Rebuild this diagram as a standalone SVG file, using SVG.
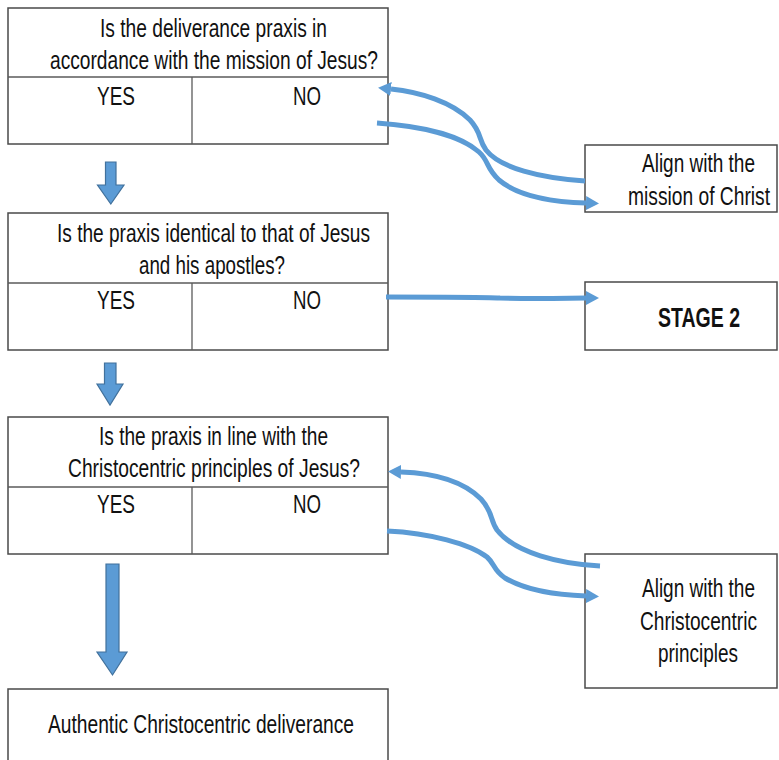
<svg xmlns="http://www.w3.org/2000/svg" width="779" height="760" viewBox="0 0 779 760">
<style>
.box{fill:#ffffff;stroke:#4a4a4a;stroke-width:1.5}
.div{stroke:#5a5a5a;stroke-width:1.3;fill:none}
.t{font-family:"Liberation Sans Narrow","Liberation Sans",Arial,sans-serif;font-size:25px;fill:#111111}
.b{font-weight:bold;font-size:27px}
.con{fill:none;stroke:#5B9BD5;stroke-width:5;stroke-linecap:butt}
.blk{fill:#5B9BD5;stroke:#41719C;stroke-width:1.2}
</style>
<defs>
<marker id="ah" markerUnits="userSpaceOnUse" markerWidth="13" markerHeight="14" refX="0" refY="7" orient="auto">
<path d="M0,0 L13,7 L0,14 z" fill="#5B9BD5"/>
</marker>
</defs>
<rect width="779" height="760" fill="#ffffff"/>

<g id="q1">
<rect class="box" x="8" y="8" width="380" height="136"/>
<line class="div" x1="8" y1="77" x2="388" y2="77"/>
<line class="div" x1="192" y1="77" x2="192" y2="144"/>
<text class="t" x="100" y="37" textLength="227" lengthAdjust="spacingAndGlyphs">Is the deliverance praxis in</text>
<text class="t" x="50" y="69" textLength="328" lengthAdjust="spacingAndGlyphs">accordance with the mission of Jesus?</text>
<text class="t" x="97" y="105" textLength="38" lengthAdjust="spacingAndGlyphs">YES</text>
<text class="t" x="293" y="105" textLength="28" lengthAdjust="spacingAndGlyphs">NO</text>
</g>

<g id="q2">
<rect class="box" x="8" y="213" width="380" height="137"/>
<line class="div" x1="8" y1="283" x2="388" y2="283"/>
<line class="div" x1="192" y1="283" x2="192" y2="350"/>
<text class="t" x="57" y="242" textLength="313" lengthAdjust="spacingAndGlyphs">Is the praxis identical to that of Jesus</text>
<text class="t" x="139" y="274" textLength="146" lengthAdjust="spacingAndGlyphs">and his apostles?</text>
<text class="t" x="97" y="309" textLength="38" lengthAdjust="spacingAndGlyphs">YES</text>
<text class="t" x="293" y="309" textLength="28" lengthAdjust="spacingAndGlyphs">NO</text>
</g>

<g id="q3">
<rect class="box" x="8" y="417" width="380" height="137"/>
<line class="div" x1="8" y1="487" x2="388" y2="487"/>
<line class="div" x1="192" y1="487" x2="192" y2="554"/>
<text class="t" x="99" y="445" textLength="229" lengthAdjust="spacingAndGlyphs">Is the praxis in line with the</text>
<text class="t" x="68" y="477" textLength="292" lengthAdjust="spacingAndGlyphs">Christocentric principles of Jesus?</text>
<text class="t" x="97" y="513" textLength="38" lengthAdjust="spacingAndGlyphs">YES</text>
<text class="t" x="293" y="513" textLength="28" lengthAdjust="spacingAndGlyphs">NO</text>
</g>

<g id="result">
<rect class="box" x="8" y="689" width="380" height="90"/>
<text class="t" x="48" y="733" textLength="306" lengthAdjust="spacingAndGlyphs">Authentic Christocentric deliverance</text>
</g>

<g id="alignMission">
<rect class="box" x="585" y="145" width="192" height="67"/>
<text class="t" x="642" y="172" textLength="113" lengthAdjust="spacingAndGlyphs">Align with the</text>
<text class="t" x="628" y="205" textLength="142" lengthAdjust="spacingAndGlyphs">mission of Christ</text>
</g>

<g id="stage2">
<rect class="box" x="585" y="282" width="192" height="68"/>
<text class="t b" x="658" y="327" textLength="82" lengthAdjust="spacingAndGlyphs">STAGE 2</text>
</g>

<g id="alignPrinciples">
<rect class="box" x="585" y="554" width="192" height="134"/>
<text class="t" x="642" y="597" textLength="113" lengthAdjust="spacingAndGlyphs">Align with the</text>
<text class="t" x="640" y="630" textLength="117" lengthAdjust="spacingAndGlyphs">Christocentric</text>
<text class="t" x="658" y="662" textLength="80" lengthAdjust="spacingAndGlyphs">principles</text>
</g>

<g id="connectors">
<path class="blk" d="M105.5,162 H116 V185 H124 L110.8,204 L97.5,185 H105.5 Z"/>
<path class="blk" d="M104.5,363 H116 V384 H123 L110,405 L97,384 H104.5 Z"/>
<path class="blk" d="M106,564 H119 V652 H127 L112.5,675 L97,652 H106 Z"/>
<path class="con" marker-end="url(#ah)" d="M585,181 C540,178 500,168 486,150 C478,139 482,133 470,120 C452,102 420,92 391,89"/>
<path class="con" marker-end="url(#ah)" d="M377,123 C420,126 460,135 479,152 C489,161 486,168 499,180 C519,197 555,202 586,203"/>
<path class="con" marker-end="url(#ah)" d="M386,297 C450,297 480,297 500,298 C540,299 570,298 586,298"/>
<path class="con" marker-end="url(#ah)" d="M600,566 C560,564 515,553 497,530 C490,520 493,512 481,499 C462,480 430,473 401,472"/>
<path class="con" marker-end="url(#ah)" d="M387,531 C430,533 470,544 487,557 C495,564 493,570 505,578 C525,590 555,595 586,596"/>
</g>
</svg>
